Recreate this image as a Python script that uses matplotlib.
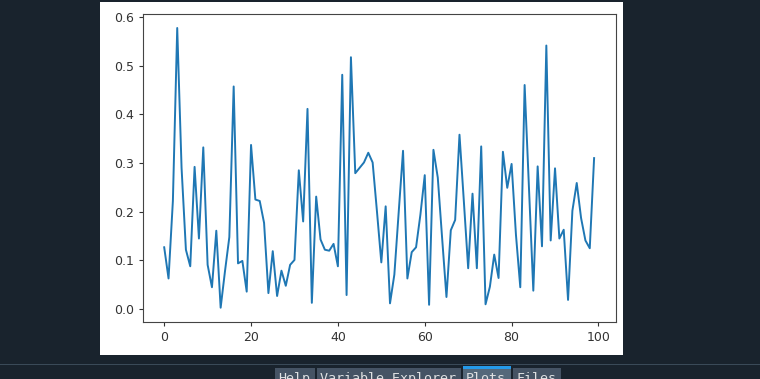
import matplotlib.pyplot as plt
from matplotlib.patches import Rectangle

# values, index 0..99
vals = [0.127, 0.063, 0.222, 0.577, 0.29, 0.122, 0.088, 0.292, 0.145, 0.332,
        0.091, 0.045, 0.161, 0.003, 0.078, 0.148, 0.457, 0.094, 0.099, 0.036,
        0.337, 0.225, 0.222, 0.177, 0.033, 0.119, 0.027, 0.079, 0.048, 0.091,
        0.101, 0.285, 0.180, 0.411, 0.013, 0.231, 0.143, 0.122, 0.120, 0.134,
        0.088, 0.481, 0.029, 0.517, 0.279, 0.290, 0.301, 0.321, 0.301, 0.200,
        0.096, 0.211, 0.012, 0.071, 0.199, 0.325, 0.063, 0.117, 0.127, 0.194,
        0.275, 0.009, 0.327, 0.270, 0.146, 0.025, 0.162, 0.183, 0.358, 0.222,
        0.084, 0.237, 0.084, 0.334, 0.010, 0.046, 0.112, 0.064, 0.323, 0.249,
        0.298, 0.153, 0.045, 0.460, 0.249, 0.038, 0.293, 0.129, 0.541, 0.141,
        0.289, 0.145, 0.163, 0.019, 0.202, 0.259, 0.187, 0.141, 0.125, 0.310]
x = list(range(len(vals)))

tabs = ["Help", "Variable Explorer", "Plots", "Files"]

W, H = 760, 379
fig = plt.figure(figsize=(W / 100, H / 100), dpi=100)
fig.patch.set_facecolor("#19232d")

def px(x0, y0, w, h, **kw):
    # rectangle given in screen pixels (top-left origin)
    r = Rectangle((x0 / W, 1 - (y0 + h) / H), w / W, h / H,
                  transform=fig.transFigure, **kw)
    fig.patches.append(r)

# white plot canvas
px(100, 2, 523, 353, facecolor="white", edgecolor="none", zorder=-5)

# tab strip at the bottom
px(0, 364, 760, 1.2, facecolor="#3a4a58", edgecolor="none")
tab_x = [275, 317, 463, 513]
tab_w = [40, 144, 48, 48]
for name, tx, tw in zip(tabs, tab_x, tab_w):
    col = "#54687a" if name == "Plots" else "#455364"
    px(tx, 368, tw, 12, facecolor=col, edgecolor="none")
    if name == "Plots":
        px(tx, 366, tw, 2.5, facecolor="#259ae9", edgecolor="none")
    fig.text((tx + 3) / W, 1 - 372 / H, name, color="#dfe1e2",
             family="DejaVu Sans Mono", fontsize=9.6, va="top", ha="left")

ax = fig.add_axes([142.7 / W, 1 - 321.7 / H, 472.9 / W, 307.7 / H])
ax.set_zorder(5)
ax.set_facecolor("white")
ax.plot(x, vals, color="#1f77b4", linewidth=1.4)
ax.set_yticks([0.0, 0.1, 0.2, 0.3, 0.4, 0.5, 0.6])
ax.set_xticks([0, 20, 40, 60, 80, 100])
ax.tick_params(labelsize=9, length=3.2, pad=3.2, colors="#333333")
for s in ax.spines.values():
    s.set_color("#444444")

fig.savefig("out.png", dpi=100, facecolor=fig.get_facecolor())
